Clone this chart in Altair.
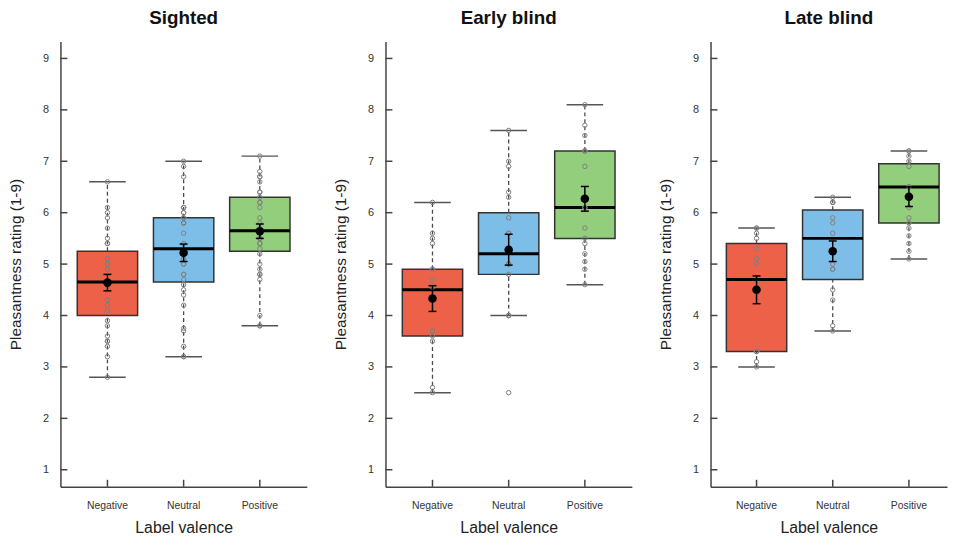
import altair as alt
import pandas as pd

groups = ["Sighted", "Early blind", "Late blind"]
valences = ["Negative", "Neutral", "Positive"]
box_colors = ["#EE6149", "#7DBEE9", "#92CE7B"]
y_ticks = [1, 2, 3, 4, 5, 6, 7, 8, 9]

# box statistics per group (Negative, Neutral, Positive)
whisker_low = {"Sighted": [2.8, 3.2, 3.8], "Early blind": [2.5, 4.0, 4.6], "Late blind": [3.0, 3.7, 5.1]}
quart_1 = {"Sighted": [4.0, 4.65, 5.25], "Early blind": [3.6, 4.8, 5.5], "Late blind": [3.3, 4.7, 5.8]}
medians = {"Sighted": [4.65, 5.3, 5.65], "Early blind": [4.5, 5.2, 6.1], "Late blind": [4.7, 5.5, 6.5]}
quart_3 = {"Sighted": [5.25, 5.9, 6.3], "Early blind": [4.9, 6.0, 7.2], "Late blind": [5.4, 6.05, 6.95]}
whisker_high = {"Sighted": [6.6, 7.0, 7.1], "Early blind": [6.2, 7.6, 8.1], "Late blind": [5.7, 6.3, 7.2]}
means = {"Sighted": [4.64, 5.22, 5.64], "Early blind": [4.33, 5.28, 6.27], "Late blind": [4.5, 5.25, 6.31]}
std_err = {"Sighted": [0.16, 0.17, 0.14], "Early blind": [0.25, 0.30, 0.24], "Late blind": [0.27, 0.20, 0.19]}

# individual ratings
sighted_negative = [6.6, 6.1, 6.0, 5.9, 5.7, 5.5, 5.4, 5.4, 5.1, 5.1, 5.0, 5.0, 4.9, 4.9, 4.65,
                    4.3, 4.3, 4.3, 4.2, 4.1, 3.9, 3.8, 3.6, 3.5, 3.5, 3.4, 3.2, 2.8]
sighted_neutral = [7.0, 6.9, 6.7, 6.1, 6.1, 6.1, 6.0, 6.0, 5.9, 5.9, 5.8, 5.8, 5.8, 5.6, 5.4, 5.1,
                   5.0, 5.0, 4.8, 4.8, 4.7, 4.6, 4.5, 4.4, 4.2, 3.75, 3.7, 3.4, 3.2, 3.2]
sighted_positive = [7.1, 6.8, 6.7, 6.7, 6.6, 6.4, 6.4, 6.3, 6.2, 6.2, 6.1, 5.9, 5.8, 5.7, 5.6, 5.6,
                    5.5, 5.5, 5.5, 5.4, 5.4, 5.3, 5.2, 5.0, 4.9, 4.8, 4.8, 4.7, 4.0, 3.8, 3.8]
early_negative = [6.2, 5.6, 5.5, 5.4, 4.9, 4.9, 4.7, 4.55, 3.7, 3.7, 3.6, 3.5, 2.6, 2.5]
early_neutral = [7.6, 7.0, 6.9, 6.4, 6.3, 5.9, 5.6, 5.6, 5.0, 5.0, 5.0, 4.8, 4.0, 4.0, 4.0, 2.5]
early_positive = [8.1, 7.7, 7.5, 7.2, 7.2, 7.2, 6.9, 6.1, 6.1, 5.7, 5.5, 5.4, 5.2, 5.05, 4.9, 4.6]
late_negative = [5.7, 5.7, 5.6, 5.5, 5.3, 5.1, 5.0, 3.3, 3.3, 3.3, 3.1, 3.0]
late_neutral = [6.3, 6.2, 6.2, 6.2, 5.9, 5.8, 5.6, 5.0, 4.9, 4.9, 4.5, 4.3, 3.8, 3.7]
late_positive = [7.2, 7.2, 7.1, 7.0, 6.9, 6.5, 6.5, 6.5, 6.1, 5.9, 5.8, 5.8, 5.7, 5.55, 5.4, 5.25, 5.1]

points = {
    "Sighted": [sighted_negative, sighted_neutral, sighted_positive],
    "Early blind": [early_negative, early_neutral, early_positive],
    "Late blind": [late_negative, late_neutral, late_positive],
}

FONT = "Liberation Sans"
H = 450
STEP = 77
BOX_W = 61
DOT_GAP = 4.8
y_scale = alt.Scale(domain=[0.67, 9.33], nice=False, zero=False)
y_axis = alt.Axis(title="Pleasantness rating (1-9)", values=y_ticks, ticks=False, tickSize=0,
                  labelPadding=12, grid=False, titlePadding=19, domainColor="#444", domainWidth=1.5,
                  labelFontSize=11, labelColor="#333", titleFontSize=15.5, titleFontWeight="normal",
                  titleColor="#222", labelFont=FONT, titleFont=FONT)


def panel(group, width, align):
    pad_outer = (width / STEP - 3) / 2
    x_scale = alt.Scale(domain=valences, paddingInner=0, paddingOuter=pad_outer, align=align)
    x_axis = alt.Axis(title="Label valence", labelAngle=0, ticks=False, tickSize=0, labelPadding=14,
                      titlePadding=9, domainColor="#444", domainWidth=1.5, labelFontSize=10.5,
                      labelColor="#333", titleFontSize=16, titleFontWeight="normal", titleColor="#222",
                      grid=False, labelFont=FONT, titleFont=FONT)

    def X():
        return alt.X("valence:N", scale=x_scale, axis=x_axis)

    def Y(f):
        return alt.Y(f"{f}:Q", scale=y_scale, axis=y_axis)

    stats = pd.DataFrame({
        "valence": valences,
        "low": whisker_low[group], "q1": quart_1[group], "med": medians[group],
        "q3": quart_3[group], "high": whisker_high[group], "mean": means[group], "se": std_err[group],
    })
    stats["se_lo"] = stats["mean"] - stats["se"]
    stats["se_hi"] = stats["mean"] + stats["se"]

    rows = []
    for v, vals in zip(valences, points[group]):
        counts = {}
        for val in vals:
            counts[val] = counts.get(val, 0) + 1
        seen = {}
        for val in vals:
            n = counts[val]
            i = seen.get(val, 0)
            seen[val] = i + 1
            rows.append({"valence": v, "value": val, "slot": i - (n - 1) / 2})
    pts = pd.DataFrame(rows)

    base = alt.Chart(stats)
    boxes = base.mark_bar(width=BOX_W, stroke="#333", strokeWidth=1.5).encode(
        x=X(), y=Y("q1"), y2="q3",
        color=alt.Color("valence:N", scale=alt.Scale(domain=valences, range=box_colors), legend=None))
    wl = base.mark_rule(strokeDash=[4, 3], color="#4a4a4a", strokeWidth=1.3).encode(x=X(), y=Y("low"), y2="q1")
    wh = base.mark_rule(strokeDash=[4, 3], color="#4a4a4a", strokeWidth=1.3).encode(x=X(), y=Y("q3"), y2="high")
    cl = base.mark_tick(size=37, thickness=1.5, color="#555", opacity=1).encode(x=X(), y=Y("low"))
    ch = base.mark_tick(size=37, thickness=1.5, color="#555", opacity=1).encode(x=X(), y=Y("high"))
    med = base.mark_tick(size=BOX_W, thickness=3, color="black", opacity=1).encode(x=X(), y=Y("med"))
    dot_layers = []
    for s in sorted(pts["slot"].unique()):
        dot_layers.append(
            alt.Chart(pts[pts["slot"] == s]).mark_point(
                shape="circle", filled=False, size=20, color="#7f7f7f", strokeWidth=1, opacity=1,
                dx=float(s) * DOT_GAP).encode(x=X(), y=Y("value")))
    se = base.mark_rule(color="black", strokeWidth=1.5).encode(x=X(), y=Y("se_lo"), y2="se_hi")
    sel = base.mark_tick(size=8, thickness=1.5, color="black", opacity=1).encode(x=X(), y=Y("se_lo"))
    seh = base.mark_tick(size=8, thickness=1.5, color="black", opacity=1).encode(x=X(), y=Y("se_hi"))
    mean = base.mark_circle(size=75, color="black", opacity=1).encode(x=X(), y=Y("mean"))
    xt = alt.Chart(pd.DataFrame({"valence": valences})).mark_rule(color="#444", strokeWidth=1.5).encode(
        x=X(), y=alt.value(H), y2=alt.value(H - 7))
    yt = alt.Chart(pd.DataFrame({"t": y_ticks})).mark_rule(color="#444", strokeWidth=1.5).encode(
        y=Y("t"), x=alt.value(0), x2=alt.value(7))

    layers = [boxes, wl, wh, cl, ch, med] + dot_layers + [se, sel, seh, mean, xt, yt]
    return alt.layer(*layers).properties(
        width=width, height=H,
        title=alt.TitleParams(group, fontSize=19, fontWeight="bold", anchor="middle", offset=14,
                              font=FONT, color="#111"))


chart = alt.hconcat(
    panel("Sighted", 249, 0.5),
    panel("Early blind", 249, 0.5),
    panel("Late blind", 239, 1),
    spacing=25.5,
).properties(
    padding={"top": -3, "bottom": -1, "left": 0, "right": 0}
).configure_view(stroke="transparent")

chart.save("out.html", embed_options={"renderer": "svg", "actions": False})
